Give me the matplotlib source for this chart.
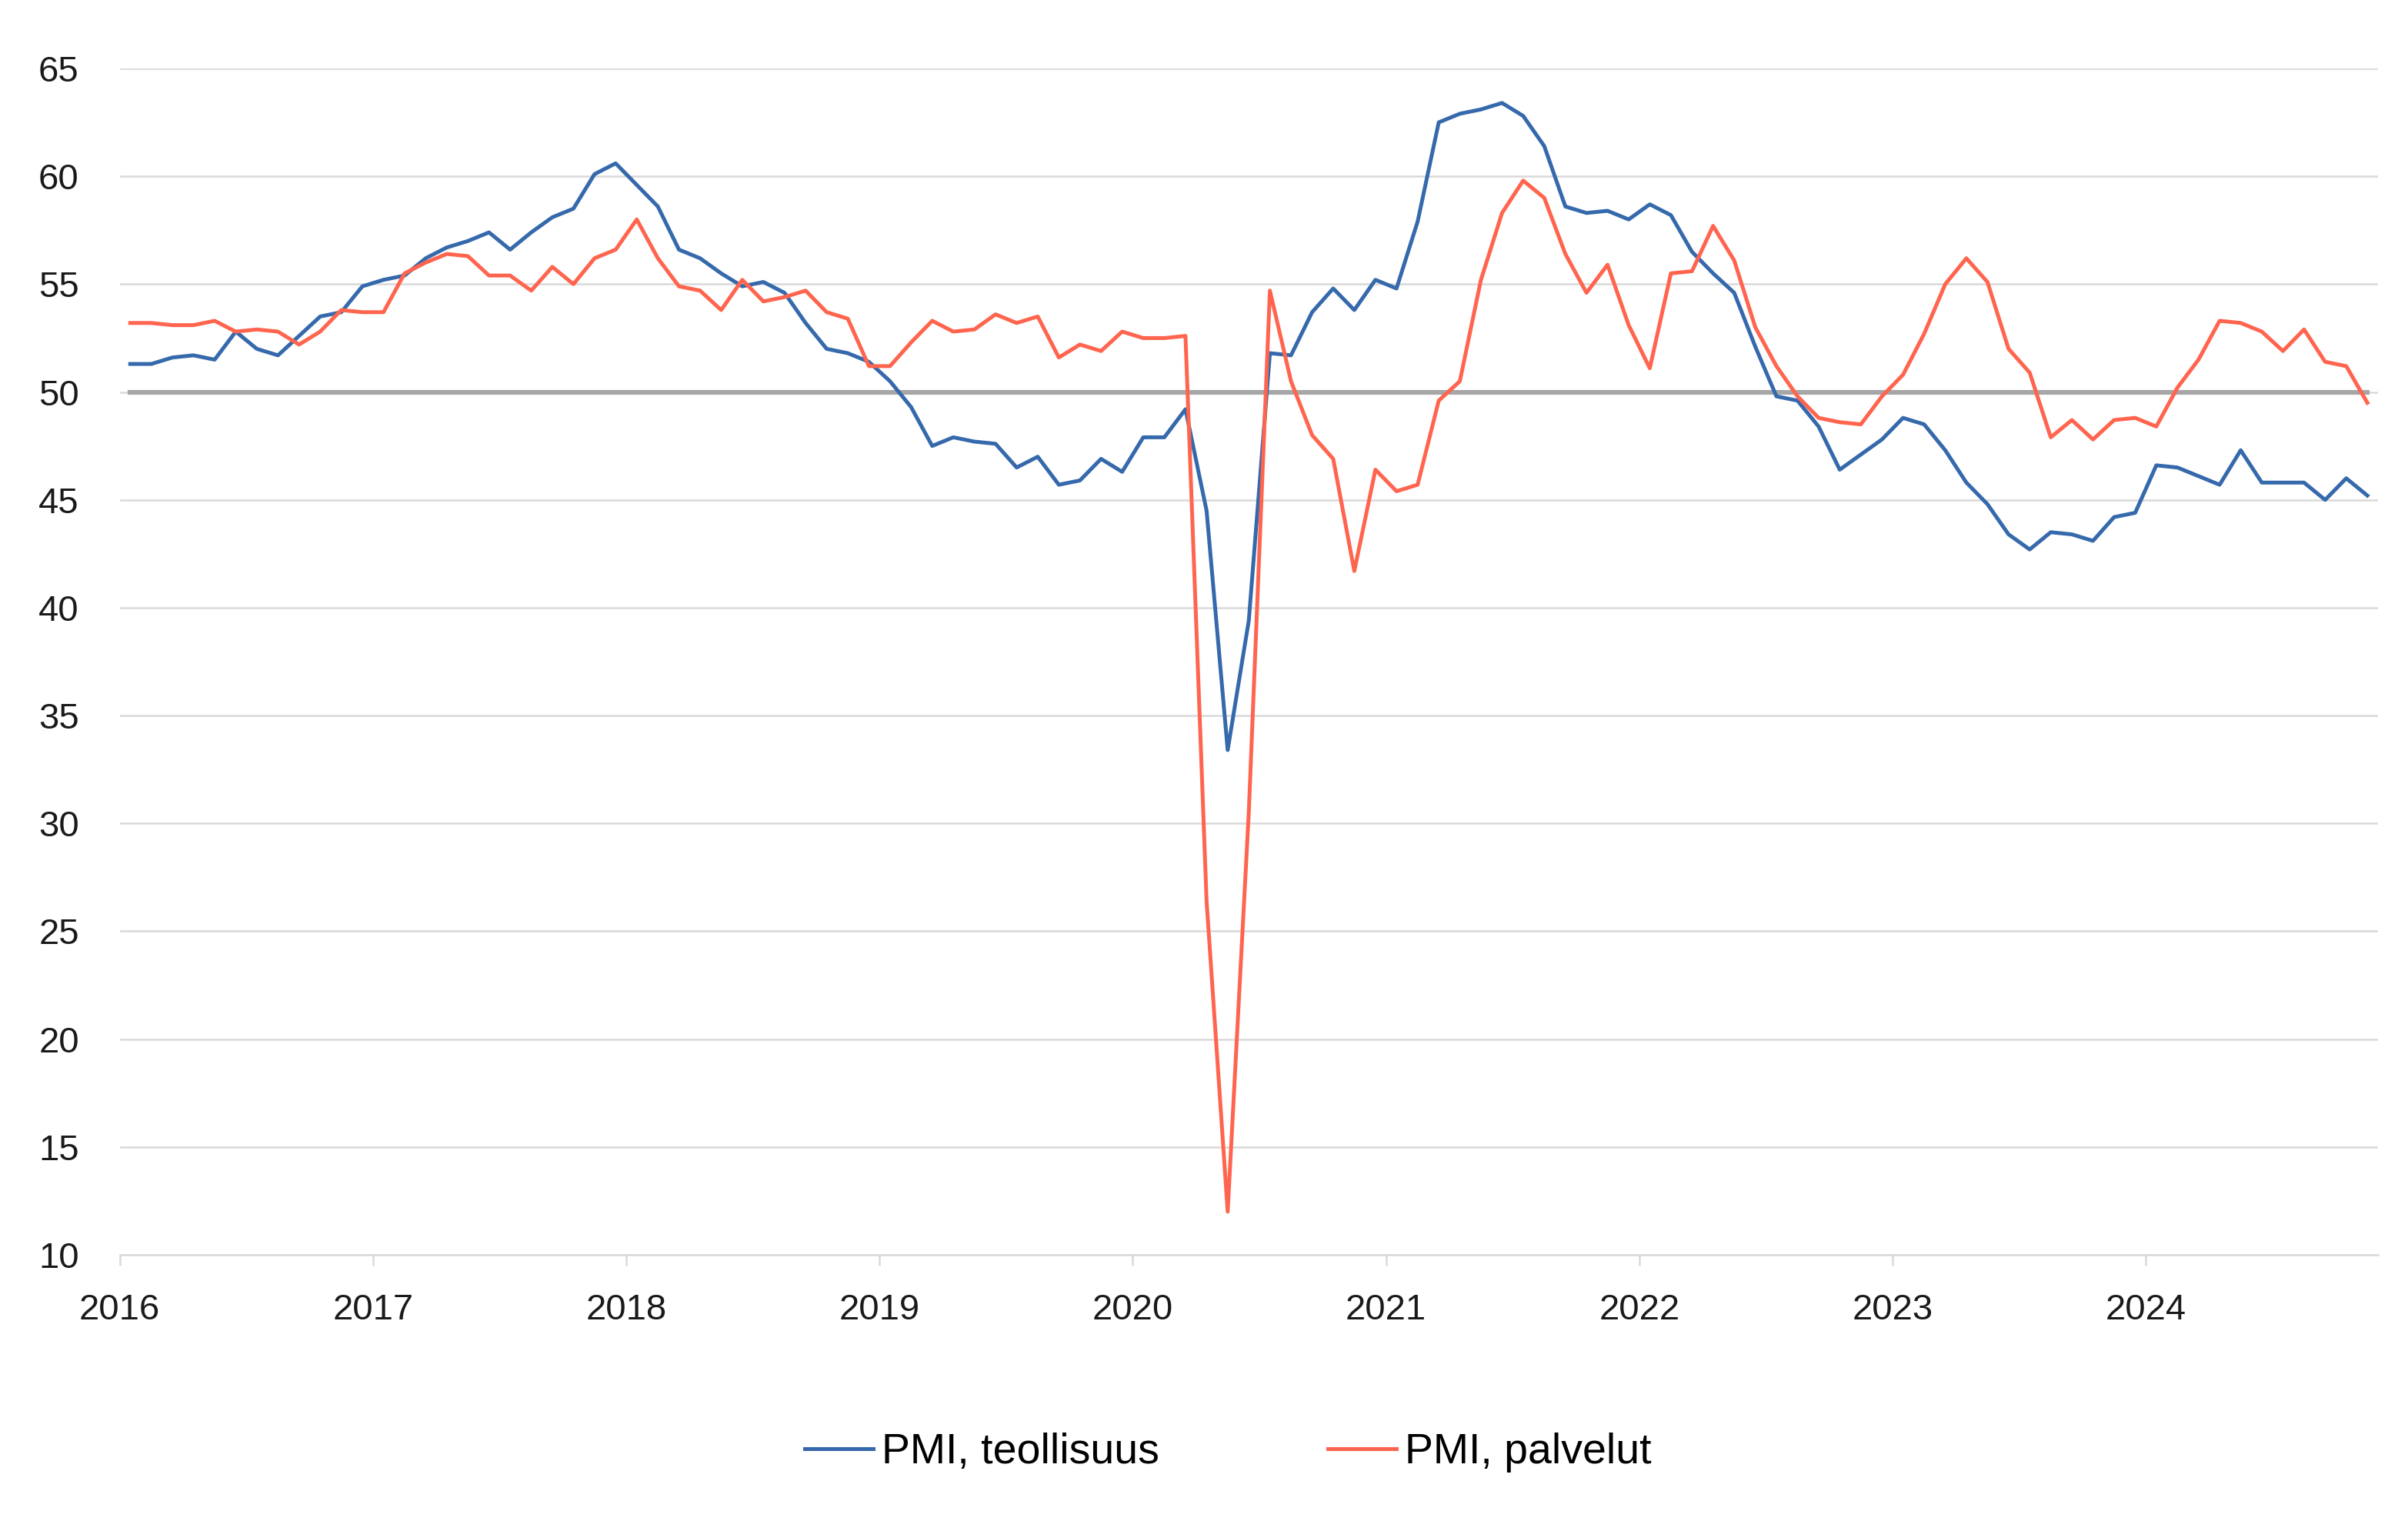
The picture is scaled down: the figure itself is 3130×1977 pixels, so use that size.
import numpy as np
import matplotlib.pyplot as plt

plt.rcParams['font.family'] = ['Liberation Sans', 'DejaVu Sans']

# kuukausidata 2016-01 ... 2024-11
vuodet = ['2016', '2017', '2018', '2019', '2020', '2021', '2022', '2023', '2024']

teollisuus = [51.3, 51.3, 51.6, 51.7, 51.5, 52.8, 52.0, 51.7, 52.6, 53.5, 53.7, 54.9,
              55.2, 55.4, 56.2, 56.7, 57.0, 57.4, 56.6, 57.4, 58.1, 58.5, 60.1, 60.6,
              59.6, 58.6, 56.6, 56.2, 55.5, 54.9, 55.1, 54.6, 53.2, 52.0, 51.8, 51.4,
              50.5, 49.3, 47.5, 47.9, 47.7, 47.6, 46.5, 47.0, 45.7, 45.9, 46.9, 46.3,
              47.9, 47.9, 49.2, 44.5, 33.4, 39.4, 51.8, 51.7, 53.7, 54.8, 53.8, 55.2,
              54.8, 57.9, 62.5, 62.9, 63.1, 63.4, 62.8, 61.4, 58.6, 58.3, 58.4, 58.0,
              58.7, 58.2, 56.5, 55.5, 54.6, 52.1, 49.8, 49.6, 48.4, 46.4, 47.1, 47.8,
              48.8, 48.5, 47.3, 45.8, 44.8, 43.4, 42.7, 43.5, 43.4, 43.1, 44.2, 44.4,
              46.6, 46.5, 46.1, 45.7, 47.3, 45.8, 45.8, 45.8, 45.0, 46.0, 45.2]

palvelut = [53.2, 53.2, 53.1, 53.1, 53.3, 52.8, 52.9, 52.8, 52.2, 52.8, 53.8, 53.7,
            53.7, 55.5, 56.0, 56.4, 56.3, 55.4, 55.4, 54.7, 55.8, 55.0, 56.2, 56.6,
            58.0, 56.2, 54.9, 54.7, 53.8, 55.2, 54.2, 54.4, 54.7, 53.7, 53.4, 51.2,
            51.2, 52.3, 53.3, 52.8, 52.9, 53.6, 53.2, 53.5, 51.6, 52.2, 51.9, 52.8,
            52.5, 52.5, 52.6, 26.4, 12.0, 30.5, 54.7, 50.5, 48.0, 46.9, 41.7, 46.4,
            45.4, 45.7, 49.6, 50.5, 55.2, 58.3, 59.8, 59.0, 56.4, 54.6, 55.9, 53.1,
            51.1, 55.5, 55.6, 57.7, 56.1, 53.0, 51.2, 49.8, 48.8, 48.6, 48.5, 49.8,
            50.8, 52.7, 55.0, 56.2, 55.1, 52.0, 50.9, 47.9, 48.7, 47.8, 48.7, 48.8,
            48.4, 50.2, 51.5, 53.3, 53.2, 52.8, 51.9, 52.9, 51.4, 51.2, 49.5]

raja = 50

x = np.arange(len(teollisuus)) + 0.5

fig = plt.figure(figsize=(15.65, 9.885), dpi=200)
ax = fig.add_axes([0.0497, 0.175, 0.9378, 0.78])

ax.plot(x, [raja] * len(x), color='#A6A6A6', lw=2.2, zorder=2)
ax.plot(x, teollisuus, color='#3569AC', lw=1.8, label='PMI, teollisuus', zorder=3)
ax.plot(x, palvelut, color='#FF644E', lw=1.8, label='PMI, palvelut', zorder=3)

ax.set_xlim(0, 107)
ax.set_ylim(10, 65)
ax.set_yticks(np.arange(10, 66, 5))
ax.set_xticks(np.arange(len(vuodet)) * 12)
ax.set_xticklabels(vuodet)
ax.grid(axis='y', color='#D9D9D9', lw=0.9)
ax.set_axisbelow(True)

for s in ['top', 'right', 'left']:
    ax.spines[s].set_visible(False)
ax.spines['bottom'].set_color('#D9D9D9')
ax.spines['bottom'].set_linewidth(0.9)
ax.tick_params(axis='y', length=0, pad=19, labelsize=17, labelcolor='#1a1a1a')
ax.tick_params(axis='x', length=5, width=0.9, color='#D9D9D9', pad=13,
               labelsize=17, labelcolor='#1a1a1a')

fig.legend(loc='center', bbox_to_anchor=(0.51, 0.045), ncol=2, frameon=False,
           fontsize=20, handlelength=1.6, handletextpad=0.2, columnspacing=3.95)

fig.savefig('out.png', dpi=200)
